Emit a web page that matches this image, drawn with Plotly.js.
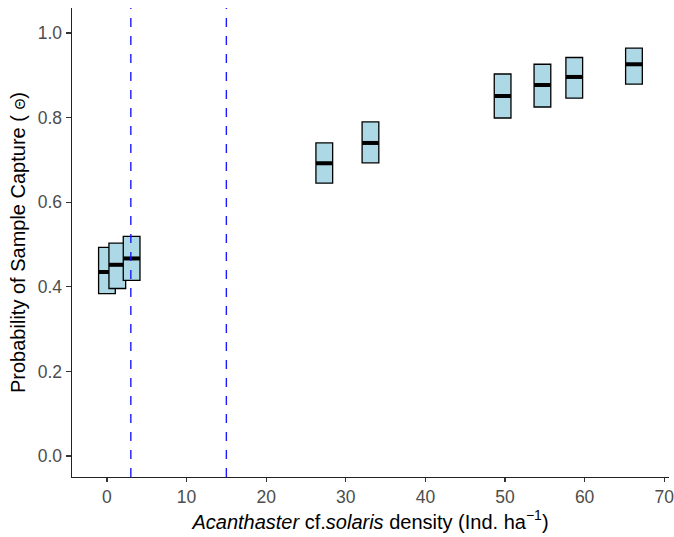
<!DOCTYPE html>
<html>
<head>
<meta charset="utf-8">
<script src="https://cdn.plot.ly/plotly-3.0.1.min.js"></script>
<style>html,body{margin:0;padding:0;background:#fff;}#chart{width:674px;height:537px;}</style>
</head>
<body>
<div id="chart"></div>
<script>
// Density (Ind. ha^-1) and posterior summaries of capture probability
const density = [0.0, 1.3, 3.1, 27.3, 33.1, 49.7, 54.7, 58.7, 66.2];
const lower   = [0.384, 0.396, 0.415, 0.645, 0.693, 0.799, 0.825, 0.846, 0.879];
const middle  = [0.435, 0.452, 0.467, 0.692, 0.740, 0.851, 0.877, 0.896, 0.926];
const upper   = [0.493, 0.503, 0.519, 0.740, 0.790, 0.903, 0.926, 0.942, 0.964];
const thresholds = [3, 15];
const xTicks = [0, 10, 20, 30, 40, 50, 60, 70];
const yTicks = [0.0, 0.2, 0.4, 0.6, 0.8, 1.0];

const boxW = 2.1, barThick = 0.0095;
// build interleaved bars: box then its crossbar
const bx = [], bbase = [], by = [], bcol = [], blw = [];
for (let i = 0; i < density.length; i++) {
  bx.push(density[i]); bbase.push(lower[i]); by.push(upper[i] - lower[i]);
  bcol.push('#ADD8E6'); blw.push(1.3);
  bx.push(density[i]); bbase.push(middle[i] - barThick / 2); by.push(barThick);
  bcol.push('#000000'); blw.push(0);
}
const traces = [{
  type: 'bar', x: bx, y: by, base: bbase, width: boxW,
  marker: {color: bcol, line: {color: '#000', width: blw}},
  hoverinfo: 'skip', showlegend: false
}];

const shapes = thresholds.map(t => ({
  type: 'line', xref: 'x', yref: 'paper', x0: t, x1: t, y0: 0, y1: 1,
  line: {color: '#1a1aff', width: 1.4, dash: 'dash'}, layer: 'above'
}));

const layout = {
  width: 674, height: 537,
  margin: {l: 72, r: 5, t: 8, b: 60},
  paper_bgcolor: '#fff', plot_bgcolor: '#fff',
  barmode: 'overlay', showlegend: false,
  font: {family: 'Liberation Sans, Arial, sans-serif'},
  xaxis: {
    range: [-4.39, 70.6], tickvals: xTicks, ticktext: xTicks.map(String),
    showgrid: false, zeroline: false, showline: true, linecolor: '#222', linewidth: 1.4,
    ticks: 'outside', ticklen: 4, tickcolor: '#333', tickwidth: 1.1,
    ticklabeloverflow: 'allow',
    tickfont: {size: 17.5, color: '#4D4D4D'},
    title: {text: '<i>Acanthaster</i> cf.<i>solaris</i> density (Ind. ha<sup>\u22121</sup>)',
            font: {size: 20, color: '#000'}, standoff: 4}
  },
  yaxis: {
    range: [-0.0496, 1.059], tickvals: yTicks, ticktext: yTicks.map(v => v.toFixed(1)),
    showgrid: false, zeroline: false, showline: true, linecolor: '#222', linewidth: 1.4,
    ticks: 'outside', ticklen: 5, tickcolor: '#333', tickwidth: 1.1,
    ticklabeloverflow: 'allow',
    tickfont: {size: 17.5, color: '#4D4D4D'},
    title: {text: 'Probability of Sample Capture ( <span style="font-size:14px">\u0398</span>)',
            font: {size: 20, color: '#000'}, standoff: 6}
  },
  shapes: shapes
};
Plotly.newPlot('chart', traces, layout, {displayModeBar: false, staticPlot: true});
</script>
</body>
</html>
